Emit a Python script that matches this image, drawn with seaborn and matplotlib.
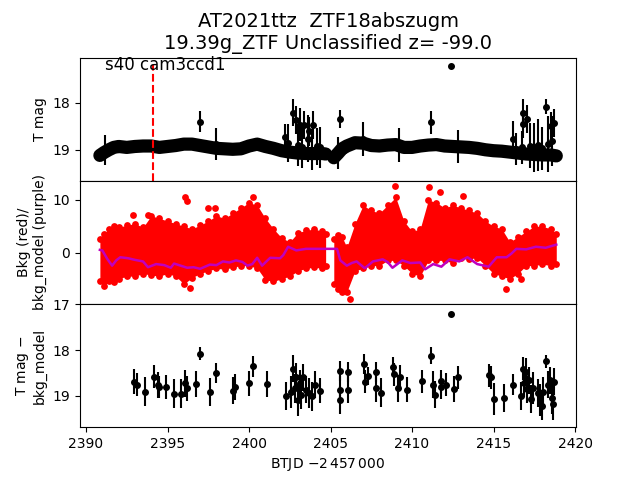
import numpy as np
import pandas as pd
import matplotlib
matplotlib.use('Agg')
import matplotlib.pyplot as plt
import seaborn as sns

# --- top panel: light curve band (two TESS orbits) ---
t_band1 = [2390.85, 2391.1, 2391.4, 2391.7, 2392.0, 2392.5, 2393.0, 2393.5, 2394.0, 2394.5,
           2395.0, 2395.5, 2396.0, 2396.5, 2397.0, 2397.5, 2398.0, 2398.5, 2399.0, 2399.5,
           2400.0, 2400.5, 2401.0, 2401.5, 2402.0, 2402.5, 2403.0, 2403.5, 2404.0, 2404.5, 2404.7]
m_band1 = [19.12, 19.06, 19.0, 18.95, 18.93, 18.95, 18.93, 18.92, 18.92, 18.95,
           18.93, 18.91, 18.88, 18.88, 18.91, 18.94, 18.97, 18.98, 18.99, 18.98,
           18.92, 18.88, 18.93, 18.97, 19.02, 19.05, 19.07, 19.08, 19.08, 19.08, 19.09]
t_band2 = [2405.2, 2405.45, 2405.7, 2406.0, 2406.5, 2407.0, 2407.5, 2408.0, 2408.5, 2409.0,
           2409.5, 2410.0, 2410.5, 2411.0, 2411.5, 2412.0, 2412.5, 2413.0, 2413.5, 2414.0,
           2414.5, 2415.0, 2415.5, 2416.0, 2416.5, 2417.0, 2417.5, 2418.0, 2418.5, 2418.85]
m_band2 = [19.17, 19.08, 18.98, 18.92, 18.85, 18.86, 18.91, 18.92, 18.9, 18.89,
           18.95, 18.95, 18.92, 18.9, 18.89, 18.92, 18.93, 18.94, 18.95, 18.97,
           19.0, 19.02, 19.03, 19.05, 19.07, 19.09, 19.1, 19.11, 19.11, 19.13]

# individual points with large errors (spikes and outliers)
t_spk = [2391.17, 2398.0, 2397.0, 2405.46, 2405.6, 2407.0, 2409.2, 2411.17, 2412.4, 2412.8,
         2402.2, 2402.41, 2402.72, 2402.88, 2403.02, 2403.13, 2403.23, 2403.37, 2403.64, 2403.7,
         2403.85, 2403.9, 2404.15, 2404.36,
         2416.18, 2416.38, 2416.73, 2416.78, 2416.83, 2417.03, 2417.24, 2417.48, 2417.75, 2417.96,
         2418.22, 2418.36, 2418.5, 2418.57, 2418.71]
m_spk = [19.0, 18.87, 18.40, 19.07, 18.34, 18.78, 18.9, 18.42, 17.22, 18.93,
         18.73, 18.85, 18.21, 18.36, 18.9, 18.47, 18.95, 18.47, 18.77, 18.61,
         19.0, 18.47, 18.93, 18.95,
         18.77, 18.98, 18.95, 18.45, 18.22, 18.35, 18.91, 18.95, 18.9, 18.97,
         18.09, 18.88, 18.5, 18.82, 18.43]
e_spk = [0.32, 0.34, 0.22, 0.34, 0.19, 0.36, 0.36, 0.25, 0.02, 0.35,
         0.27, 0.4, 0.28, 0.3, 0.45, 0.35, 0.44, 0.3, 0.5, 0.3,
         0.42, 0.3, 0.4, 0.44,
         0.38, 0.34, 0.35, 0.3, 0.3, 0.3, 0.48, 0.52, 0.56, 0.46,
         0.16, 0.6, 0.3, 0.53, 0.3]

# --- middle panel: background envelope (red) and model (purple) ---
bkg_hi1 = [2.5, 3.5, 4.5, 5.0, 4.8, 5.2, 5.5, 4.8, 7.0, 6.5, 6.0, 5.5, 5.0, 4.5, 5.2, 6.0,
           7.0, 6.5, 7.5, 8.5, 9.5, 9.0, 6.5, 4.5, 2.8, 2.0, 3.8, 4.2, 4.5, 4.0, 3.5]
bkg_lo1 = [-5.5, -6.3, -5.5, -5.7, -5.0, -4.5, -4.5, -4.0, -4.3, -4.5, -4.0, -4.5, -6.0, -4.8,
           -4.0, -3.5, -3.0, -3.2, -2.8, -2.5, -2.5, -3.0, -5.2, -5.5, -5.0, -4.5, -3.5, -3.0,
           -2.8, -3.0, -2.5]
bkg_hi2 = [2.5, 3.3, 3.0, 1.0, 5.5, 9.0, 8.0, 7.5, 9.0, 10.5, 6.0, 4.0, 4.5, 10.0, 9.5,
           8.5, 9.0, 8.5, 8.0, 7.5, 6.0, 5.0, 4.5, 2.0, 3.0, 4.0, 5.0, 5.0, 4.5, 3.5]
bkg_lo2 = [-6.0, -7.0, -7.5, -7.5, -3.5, -3.0, -2.5, -2.5, -1.5, -1.5, -2.5, -4.0, -4.5, -1.5,
           -1.5, -1.5, -2.0, -1.0, -1.2, -1.0, -2.5, -4.0, -4.5, -5.0, -4.0, -2.5, -2.5, -2.2,
           -2.5, -2.2]
t_bkg_out = [2396.1, 2396.2, 2396.4, 2392.9, 2393.8, 2397.5, 2397.9, 2400.25, 2406.2,
             2408.96, 2411.05, 2411.7, 2413.1, 2415.75, 2416.7]
v_bkg_out = [10.6, 9.8, -6.7, 7.1, 7.1, 8.4, 8.4, 10.6, -8.9,
             12.7, 12.5, 11.6, 10.8, -7.0, -5.0]

t_model = [2390.85, 2391.0, 2391.3, 2391.6, 2391.85, 2392.1, 2392.6, 2393.0, 2393.5, 2393.8,
           2394.3, 2394.8, 2395.2, 2395.4, 2395.8, 2396.2, 2396.6, 2397.0, 2397.6, 2398.0,
           2398.4, 2398.8, 2399.2, 2399.6, 2399.9, 2400.2, 2400.5, 2400.8, 2401.3, 2401.9,
           2402.1, 2402.4, 2402.9, 2403.5, 2404.0, 2404.7, 2405.2, 2405.4, 2405.6, 2406.0,
           2406.3, 2406.6, 2407.1, 2407.6, 2408.2, 2408.5, 2408.8, 2409.4, 2409.9, 2410.5,
           2410.8, 2411.3, 2411.8, 2412.3, 2412.9, 2413.4, 2414.0, 2414.7, 2415.2, 2415.8,
           2416.1, 2416.4, 2417.0, 2417.6, 2418.2, 2418.85]
v_model = [0.5, 0.4, -1.2, -2.5, -1.5, -0.9, -1.1, -1.4, -1.7, -2.8,
           -2.2, -2.4, -2.9, -2.1, -2.5, -2.9, -2.8, -3.1, -2.3, -2.4,
           -1.7, -1.9, -1.5, -1.8, -2.5, -2.2, -1.0, -2.5, -1.0, -1.1,
           -0.5, 1.1, 0.4, 0.7, 0.7, 0.7, 0.7, 0.7, -1.5, -2.5,
           -2.0, -1.7, -3.0, -1.7, -1.3, -1.8, -2.9, -1.5, -2.0, -1.9,
           -3.2, -2.2, -2.7, -1.3, -1.7, -0.9, -2.2, -2.7, -0.9, -0.9,
           -0.2, 0.7, 0.6, 1.1, 0.9, 1.5]

# --- bottom panel: binned T mag - bkg_model ---
t_bin = [2392.96, 2393.1, 2393.6, 2394.2, 2394.4, 2394.5, 2394.9, 2395.4, 2395.8, 2396.1,
         2396.2, 2396.75, 2397.0, 2397.6, 2398.0, 2399.0, 2399.15, 2400.0, 2400.25, 2401.1,
         2402.27, 2402.6, 2402.7, 2402.8, 2402.9, 2403.0, 2403.1, 2403.2, 2403.3, 2403.5,
         2403.7, 2403.85, 2404.05, 2404.35,
         2405.58, 2405.58, 2405.58, 2406.1, 2406.1, 2407.05, 2407.1, 2407.3, 2407.8, 2407.8,
         2408.1, 2408.85, 2408.9, 2409.15, 2409.26, 2409.67, 2410.63, 2411.17, 2411.3, 2411.4,
         2411.8, 2411.8, 2412.1, 2412.4, 2412.55, 2412.85, 2414.7, 2414.85, 2415.05, 2415.65,
         2416.2, 2416.69, 2416.83, 2416.89, 2417.0, 2417.07, 2417.18, 2417.3, 2417.44, 2417.75,
         2417.85, 2417.96, 2418.05, 2418.22, 2418.36, 2418.47, 2418.57, 2418.67, 2418.71]
m_bin = [18.69, 18.76, 18.91, 18.58, 18.76, 18.81, 18.81, 18.96, 18.96, 18.73,
         18.84, 18.74, 18.08, 18.92, 18.51, 18.89, 18.81, 18.73, 18.35, 18.74,
         19.01, 18.91, 18.41, 18.84, 18.58, 19.09, 18.73, 18.98, 18.6, 18.87,
         18.94, 19.01, 18.76, 18.89,
         18.46, 18.87, 19.09, 18.48, 18.87, 18.31, 18.69, 18.57, 18.48, 18.84,
         18.93, 18.37, 18.53, 18.84, 18.6, 18.87, 18.68, 18.12, 18.76, 18.98,
         18.68, 18.8, 18.76, 17.22, 18.85, 18.6, 18.55, 18.6, 19.07, 19.05,
         18.76, 19.01, 18.41, 18.73, 18.48, 18.86, 18.66, 19.07, 18.84, 18.94,
         19.09, 19.23, 18.91, 18.25, 18.76, 18.66, 19.05, 19.19, 18.69]
e_bin = [0.28, 0.25, 0.32, 0.25, 0.28, 0.25, 0.27, 0.32, 0.32, 0.3,
         0.28, 0.28, 0.14, 0.3, 0.22, 0.3, 0.28, 0.28, 0.23, 0.28,
         0.3, 0.35, 0.3, 0.32, 0.3, 0.35, 0.3, 0.32, 0.3, 0.3,
         0.32, 0.32, 0.3, 0.28,
         0.22, 0.3, 0.3, 0.22, 0.3, 0.22, 0.25, 0.2, 0.22, 0.3,
         0.32, 0.22, 0.25, 0.3, 0.28, 0.27, 0.25, 0.18, 0.3, 0.3,
         0.25, 0.28, 0.25, 0.02, 0.28, 0.25, 0.25, 0.25, 0.35, 0.3,
         0.23, 0.3, 0.25, 0.3, 0.3, 0.3, 0.3, 0.3, 0.35, 0.3,
         0.35, 0.3, 0.32, 0.15, 0.3, 0.3, 0.35, 0.35, 0.3]

t_peak = 2394.1
title = "AT2021ttz  ZTF18abszugm\n19.39g_ZTF Unclassified z= -99.0"
sector_label = "s40 cam3ccd1"

fig, (ax1, ax2, ax3) = plt.subplots(3, 1, sharex=True, figsize=(6.4, 4.8), dpi=100)
fig.subplots_adjust(hspace=0)

# top panel: dense cadence drawn as a thick trace through the points
for t, m in [(t_band1, m_band1), (t_band2, m_band2)]:
    ax1.plot(t, m, '-o', color='k', ms=5, lw=9.5,
             solid_capstyle='round', solid_joinstyle='round')
ax1.errorbar(t_spk, m_spk, yerr=e_spk, fmt='o', color='k', ms=4, elinewidth=1.5)
ax1.axvline(t_peak, ymax=0.94, color='r', ls='--', lw=1.5)
ax1.text(0.05, 0.902, sector_label, transform=ax1.transAxes, fontsize=12, va='baseline')
ax1.set_ylim(19.66, 17.04)
ax1.set_ylabel('T mag')
ax1.set_title(title, fontsize=14)

# middle panel
for t, lo, hi in [(t_band1, bkg_lo1, bkg_hi1), (t_band2, bkg_lo2, bkg_hi2)]:
    ax2.fill_between(t, lo, hi, color='r', lw=0)
    edge = pd.DataFrame({'t': t + t, 'v': lo + hi})
    sns.scatterplot(data=edge, x='t', y='v', color='r', s=24, linewidth=0, ax=ax2)
out = pd.DataFrame({'t': t_bkg_out, 'v': v_bkg_out})
sns.scatterplot(data=out, x='t', y='v', color='r', s=24, linewidth=0, ax=ax2)
model = pd.DataFrame({'t': t_model, 'v': v_model})
sns.lineplot(data=model, x='t', y='v', color='m', lw=1.8, sort=False, estimator=None, ax=ax2, zorder=5)
ax2.set_ylim(-9.8, 13.65)
ax2.set_yticks([0, 10])
ax2.set_ylabel('Bkg (red)/\nbkg_model (purple)')

# bottom panel
ax3.errorbar(t_bin, m_bin, yerr=e_bin, fmt='o', color='k', ms=4, elinewidth=1.5)
ax3.set_ylim(19.69, 16.99)
ax3.set_ylabel('T mag $-$\nbkg_model')
ax3.set_xlim(2389.63, 2420.06)
ax3.set_xlabel('BTJD $-2\\,457\\,000$')

fig.savefig('out.png', dpi=100)
